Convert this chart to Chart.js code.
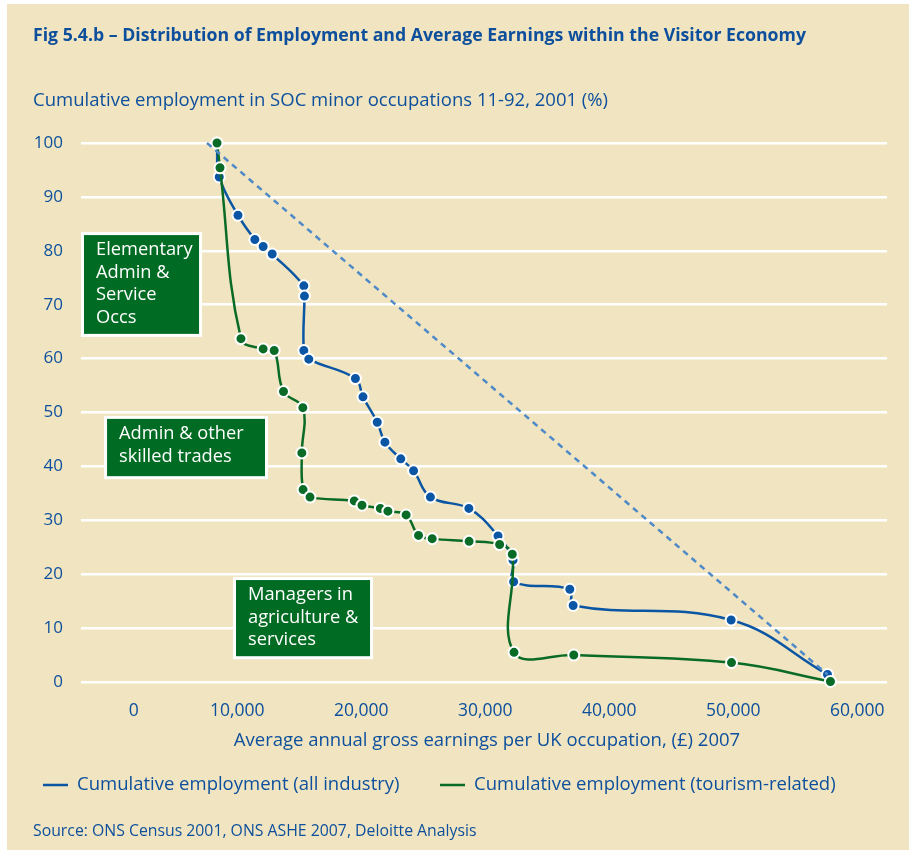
<!DOCTYPE html>
<html>
<head>
<meta charset="utf-8">
<script src="https://cdn.jsdelivr.net/npm/chart.js@4/dist/chart.umd.min.js"></script>
<style>
  html, body { margin: 0; padding: 0; background: #fff; }
  #wrap { width: 909px; height: 850px; }
</style>
</head>
<body>
<div id="wrap"><canvas id="myChart" width="909" height="850"></canvas></div>
<script>
// earnings (x) and cumulative employment (y)
var allIndustryEarnings = [8370, 8550, 10060, 11420, 12090, 12820, 15370, 15420, 15370, 15770,
  19530, 20140, 21290, 21910, 23190, 24220, 25580, 28680, 31030, 32240, 32290, 36820, 37090, 49830, 57600];
var allIndustryShare = [100, 93.7, 86.6, 82.1, 80.8, 79.4, 73.5, 71.6, 61.5, 59.9,
  56.3, 52.9, 48.2, 44.5, 41.4, 39.2, 34.3, 32.2, 27.1, 22.6, 18.6, 17.2, 14.2, 11.5, 1.4];

var tourismEarnings = [8370, 8610, 10300, 12090, 12980, 13730, 15290, 15210, 15310, 15870,
  19440, 20060, 21540, 22150, 23620, 24620, 25720, 28700, 31160, 32180, 32320, 37140, 49860, 57840];
var tourismShare = [100, 95.4, 63.7, 61.8, 61.5, 53.9, 50.9, 42.5, 35.7, 34.3,
  33.6, 32.8, 32.2, 31.7, 31.0, 27.2, 26.6, 26.1, 25.5, 23.7, 5.5, 5.0, 3.6, 0.1];

// line of equality
var equalityEarnings = [7560, 57600];
var equalityShare = [100, 1.4];

var xTicks = [0, 10000, 20000, 30000, 40000, 50000, 60000];
var yTicks = [0, 10, 20, 30, 40, 50, 60, 70, 80, 90, 100];

var labels = ['Cumulative employment (all industry)', 'Cumulative employment (tourism-related)'];

var boxes = [
  { lines: ['Elementary', 'Admin &', 'Service', 'Occs'], x0: -2440, x1: 7000, y0: 83.1, y1: 64.4 },
  { lines: ['Admin & other', 'skilled trades'], x0: -580, x1: 12320, y0: 49.0, y1: 38.0 },
  { lines: ['Managers in', 'agriculture &', 'services'], x0: 9820, x1: 20790, y0: 19.1, y1: 4.6 }
];

function pairs(xs, ys) {
  return xs.map(function (x, i) { return { x: x, y: ys[i] }; });
}

var BLUE = '#0b56a4';
var GREEN = '#0a6b26';
var TEXT = '#0d4f9c';
var BG = '#f0e5c0';
var FONT = '"Open Sans", "Noto Sans", sans-serif';

var extras = {
  id: 'extras',
  beforeDraw: function (chart) {
    var c = chart.ctx;
    c.save();
    c.fillStyle = BG;
    c.fillRect(7, 4, 902, 846);
    c.restore();
  },
  afterDatasetsDraw: function (chart) {
    var c = chart.ctx;
    var xs = chart.scales.x, ys = chart.scales.y;
    c.save();
    // boxes
    boxes.forEach(function (b) {
      var l = xs.getPixelForValue(b.x0), r = xs.getPixelForValue(b.x1);
      var t = ys.getPixelForValue(b.y0), btm = ys.getPixelForValue(b.y1);
      c.fillStyle = '#fff';
      c.fillRect(l - 2, t - 2, r - l + 4, btm - t + 4);
      c.fillStyle = '#006b22';
      c.fillRect(l + 1, t + 1, r - l - 2, btm - t - 2);
      c.fillStyle = '#fff';
      c.font = '18.3px ' + FONT;
      c.textBaseline = 'middle';
      c.textAlign = 'left';
      b.lines.forEach(function (s, i) {
        c.fillText(s, l + 13, t + 16 + i * 22.5);
      });
    });
    c.restore();
  },
  afterDraw: function (chart) {
    var c = chart.ctx;
    c.save();
    c.fillStyle = TEXT;
    c.textBaseline = 'middle';
    c.textAlign = 'left';
    c.font = 'bold 17.7px ' + FONT;
    c.fillText('Fig 5.4.b \u2013 Distribution of Employment and Average Earnings within the Visitor Economy', 33, 36);
    c.font = '18.5px ' + FONT;
    c.fillText('Cumulative employment in SOC minor occupations 11-92, 2001 (%)', 33, 101);
    c.textAlign = 'center';
    c.fillText('Average annual gross earnings per UK occupation, (\u00a3) 2007', 487, 741);
    // legend
    c.textAlign = 'left';
    var items = [{ x: 43, color: BLUE, text: labels[0] }, { x: 440, color: GREEN, text: labels[1] }];
    items.forEach(function (it) {
      c.strokeStyle = it.color;
      c.lineWidth = 2.5;
      c.beginPath();
      c.moveTo(it.x, 785);
      c.lineTo(it.x + 25, 785);
      c.stroke();
      c.fillStyle = TEXT;
      c.fillText(it.text, it.x + 34, 785);
    });
    c.font = '15.8px ' + FONT;
    c.fillText('Source: ONS Census 2001, ONS ASHE 2007, Deloitte Analysis', 33, 831);
    c.restore();
  }
};

var ctx = document.getElementById('myChart').getContext('2d');
var chart = new Chart(ctx, {
  type: 'line',
  data: {
    datasets: [
      {
        label: 'equality',
        data: pairs(equalityEarnings, equalityShare),
        borderColor: '#4f89c8',
        borderWidth: 2.5,
        borderDash: [6, 5],
        pointRadius: 0,
        tension: 0
      },
      {
        label: labels[1],
        data: pairs(tourismEarnings, tourismShare),
        borderColor: GREEN,
        backgroundColor: GREEN,
        borderWidth: 2.5,
        pointRadius: 5.5,
        pointBorderColor: '#fff',
        pointBorderWidth: 2,
        pointBackgroundColor: GREEN,
        tension: 0.4
      },
      {
        label: labels[0],
        data: pairs(allIndustryEarnings, allIndustryShare),
        borderColor: BLUE,
        backgroundColor: BLUE,
        borderWidth: 2.5,
        pointRadius: 5.5,
        pointBorderColor: '#fff',
        pointBorderWidth: 2,
        pointBackgroundColor: BLUE,
        tension: 0.4
      }
    ]
  },
  options: {
    responsive: false,
    animation: false,
    clip: false,
    layout: { padding: { top: 143, right: 22, left: 0, bottom: 0 } },
    plugins: { legend: { display: false }, tooltip: { enabled: false } },
    scales: {
      x: {
        type: 'linear',
        min: -2600,
        max: 62400,
        afterFit: function (s) { s.height = 168; },
        afterBuildTicks: function (s) { s.ticks = xTicks.map(function (v) { return { value: v }; }); },
        grid: { display: false },
        border: { display: false },
        ticks: {
          padding: 11,
          color: TEXT,
          font: { family: FONT, size: 17.5 },
          // the zero label sits a little right of its position in the original
          callback: function (v) { return v === 0 ? '         0' : v.toLocaleString('en-US'); }
        }
      },
      y: {
        min: 0,
        max: 100,
        afterFit: function (s) { s.width = 81; },
        afterBuildTicks: function (s) { s.ticks = yTicks.map(function (v) { return { value: v }; }); },
        grid: { color: '#ffffff', lineWidth: 2.5, drawTicks: false },
        border: { display: false },
        ticks: {
          padding: 18,
          color: TEXT,
          font: { family: FONT, size: 17 }
        }
      }
    }
  },
  plugins: [extras]
});
</script>
</body>
</html>
